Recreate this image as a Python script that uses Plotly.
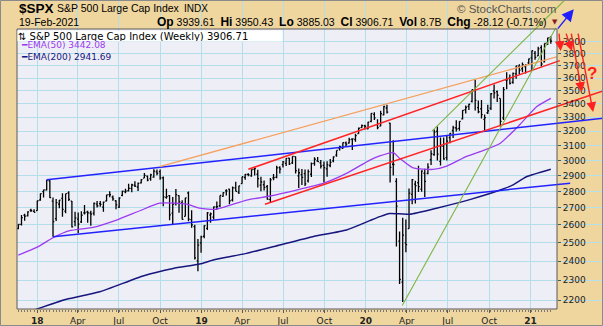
import numpy as np
import pandas as pd
import plotly.graph_objects as go

# ---------------- data: S&P 500 weekly bars (weeks starting Monday) ----------------
FIRST_MONDAY = "2017-11-20"

OPEN = [
    # 2017
    2579.49, 2602.66, 2657.19, 2652.19, 2685.92, 2679.09,
    # 2018
    2683.73, 2747.71, 2798.96, 2809.16, 2867.23, 2741.06, 2636.75, 2722.99, 2757.37, 2681.06,
    2790.54, 2741.38, 2619.35, 2633.45, 2617.18, 2670.10, 2675.40, 2668.65, 2669.36, 2722.70,
    2725.95, 2705.11, 2741.67, 2780.18, 2765.79, 2742.94, 2704.95, 2775.62, 2796.93, 2804.55,
    2819.00, 2840.29, 2827.95, 2853.93, 2884.69, 2896.96, 2881.39, 2890.74, 2923.80, 2926.29,
    2886.00, 2763.83, 2773.94, 2669.27, 2726.37, 2773.93, 2730.05, 2649.97, 2790.50, 2630.86,
    2590.75, 2400.56, 2498.94,
    # 2019
    2535.61, 2580.31, 2657.88, 2644.89, 2706.49, 2712.40, 2769.28, 2804.35, 2814.37, 2747.61,
    2822.61, 2796.01, 2848.63, 2888.32, 2908.32, 2898.78, 2940.58, 2908.89, 2840.19, 2841.94,
    2830.03, 2751.53, 2885.83, 2889.75, 2951.42, 2971.41, 2979.77, 3014.78, 2982.92, 3024.47,
    2898.07, 2907.07, 2913.48, 2866.70, 2909.01, 2980.00, 2996.41, 2983.50, 2967.07, 2944.23,
    2965.81, 2996.48, 3035.39, 3078.96, 3080.33, 3117.91, 3117.44, 3143.85, 3141.86, 3183.63,
    3226.05, 3240.09,
    # 2020
    3217.55, 3271.13, 3321.03, 3247.16, 3235.66, 3318.28, 3369.04, 3257.61, 2974.28, 2863.89,
    2508.59, 2290.71, 2498.08, 2578.28, 2782.46, 2845.62, 2854.65, 2815.01, 2915.46, 2913.86,
    3004.08, 3038.78, 3199.92, 2993.76, 3094.42, 3018.59, 3155.29, 3205.08, 3224.29, 3219.84,
    3288.26, 3356.04, 3380.86, 3418.09, 3507.44, 3371.88, 3363.56, 3285.57, 3333.90, 3367.27,
    3500.02, 3493.50, 3441.42, 3296.20, 3583.04, 3600.16, 3566.82, 3634.18, 3694.73, 3675.27,
    3693.42, 3723.03,
    # 2021
    3764.61, 3803.14, 3781.88, 3851.68, 3731.17, 3892.59, 3939.61,
]
HIGH = [
    2604.21, 2657.74, 2665.19, 2679.63, 2694.97, 2692.12,
    2743.45, 2787.85, 2810.33, 2872.87, 2870.62, 2763.39, 2754.42, 2747.76, 2789.15, 2786.57,
    2801.90, 2741.38, 2676.47, 2672.08, 2680.26, 2717.49, 2682.86, 2682.92, 2732.86, 2742.10,
    2742.24, 2739.19, 2779.90, 2801.43, 2774.99, 2746.09, 2764.41, 2804.53, 2816.36, 2848.03,
    2848.10, 2863.43, 2855.63, 2876.16, 2916.50, 2900.18, 2912.92, 2940.91, 2939.86, 2939.36,
    2894.83, 2816.94, 2778.94, 2766.28, 2815.15, 2775.99, 2746.75, 2760.88, 2800.18, 2685.44,
    2601.13, 2520.27, 2538.07,
    2597.82, 2675.47, 2672.38, 2708.95, 2738.98, 2775.66, 2795.58, 2813.49, 2816.88, 2830.73,
    2860.31, 2836.03, 2893.42, 2910.53, 2916.06, 2939.88, 2954.13, 2937.32, 2892.15, 2868.88,
    2840.51, 2884.99, 2910.61, 2964.15, 2961.32, 2995.84, 3013.92, 3017.80, 3027.98, 3025.61,
    2945.50, 2943.31, 2939.08, 2940.43, 2985.86, 3020.74, 3022.69, 3002.43, 2992.53, 2993.28,
    3008.29, 3027.39, 3066.95, 3097.77, 3120.46, 3127.64, 3154.26, 3150.60, 3182.68, 3225.65,
    3247.93, 3246.15,
    3267.07, 3329.88, 3337.77, 3285.91, 3347.96, 3385.09, 3393.52, 3259.81, 3136.72, 2882.59,
    2562.98, 2641.39, 2632.00, 2818.57, 2879.22, 2867.01, 2964.42, 2934.32, 2944.25, 2980.29,
    3068.67, 3211.72, 3233.13, 3155.53, 3155.29, 3165.81, 3186.82, 3238.28, 3279.32, 3272.17,
    3352.54, 3387.89, 3399.96, 3509.23, 3588.11, 3425.55, 3429.26, 3320.31, 3393.56, 3482.34,
    3549.85, 3502.42, 3441.42, 3529.05, 3645.99, 3628.51, 3644.31, 3699.20, 3712.39, 3726.70,
    3711.24, 3760.20,
    3826.69, 3823.60, 3859.75, 3870.90, 3886.83, 3937.00, 3950.43,
]
LOW = [
    2575.25, 2597.02, 2624.75, 2648.50, 2676.11, 2673.61,
    2682.36, 2742.66, 2763.47, 2808.12, 2759.97, 2532.69, 2622.45, 2697.77, 2647.32, 2667.84,
    2741.38, 2585.89, 2593.06, 2553.80, 2610.79, 2660.02, 2612.67, 2594.62, 2655.20, 2701.91,
    2707.38, 2676.81, 2740.54, 2764.07, 2742.94, 2691.36, 2698.95, 2770.82, 2789.24, 2799.20,
    2795.14, 2828.21, 2802.49, 2850.49, 2884.69, 2864.12, 2866.84, 2886.16, 2903.28, 2874.27,
    2710.51, 2755.18, 2627.23, 2603.54, 2714.98, 2670.75, 2631.09, 2649.97, 2621.53, 2583.23,
    2408.55, 2346.58, 2443.96,
    2524.56, 2570.41, 2612.86, 2631.05, 2687.26, 2705.58, 2766.86, 2775.13, 2722.27, 2739.19,
    2800.71, 2785.02, 2848.63, 2873.33, 2896.35, 2893.42, 2900.50, 2825.39, 2801.43, 2805.49,
    2750.52, 2728.81, 2870.54, 2883.04, 2913.04, 2952.22, 2963.44, 2969.69, 2975.95, 2914.11,
    2822.12, 2840.53, 2834.97, 2856.67, 2891.85, 2964.15, 2990.38, 2945.53, 2855.94, 2892.66,
    2953.74, 2987.31, 3023.19, 3065.89, 3078.34, 3091.41, 3114.14, 3070.33, 3126.68, 3182.68,
    3223.21, 3212.03,
    3214.64, 3263.62, 3280.61, 3214.68, 3235.66, 3315.72, 3328.45, 2855.84, 2901.54, 2478.86,
    2280.52, 2191.86, 2447.49, 2578.28, 2721.17, 2727.10, 2797.51, 2797.85, 2766.64, 2909.00,
    2969.95, 3031.54, 2999.49, 2965.66, 3004.63, 2999.70, 3115.70, 3152.10, 3198.59, 3204.00,
    3284.53, 3328.82, 3354.69, 3410.00, 3349.63, 3330.00, 3292.40, 3209.45, 3323.69, 3354.54,
    3440.00, 3415.00, 3233.94, 3279.74, 3511.91, 3550.00, 3555.00, 3594.39, 3633.40, 3645.84,
    3636.48, 3705.00,
    3662.71, 3749.62, 3780.00, 3694.12, 3725.62, 3874.00, 3885.03,
]
CLOSE = [
    2602.42, 2642.22, 2651.50, 2675.81, 2683.34, 2673.61,
    2743.15, 2786.24, 2810.30, 2872.87, 2762.13, 2619.55, 2732.22, 2747.30, 2691.25, 2786.57,
    2752.01, 2588.26, 2640.87, 2604.47, 2656.30, 2670.14, 2669.91, 2663.42, 2727.72, 2712.97,
    2721.33, 2734.62, 2779.03, 2779.66, 2754.88, 2718.37, 2759.82, 2801.31, 2801.83, 2818.82,
    2840.35, 2833.28, 2850.13, 2874.69, 2901.52, 2871.68, 2904.98, 2929.67, 2913.98, 2885.57,
    2767.13, 2767.78, 2658.69, 2723.06, 2781.01, 2736.27, 2632.56, 2760.17, 2633.08, 2599.95,
    2416.62, 2485.74, 2531.94,
    2596.26, 2670.71, 2664.76, 2706.53, 2707.88, 2775.60, 2792.67, 2803.69, 2743.07, 2822.48,
    2800.71, 2834.40, 2892.74, 2907.41, 2905.03, 2939.88, 2945.64, 2881.40, 2859.53, 2826.06,
    2752.06, 2873.34, 2886.98, 2950.46, 2941.76, 2990.41, 3013.77, 2976.61, 3025.86, 2932.05,
    2918.65, 2888.68, 2847.11, 2926.46, 2978.71, 3007.39, 2992.07, 2961.79, 2952.01, 2970.27,
    2986.20, 3022.55, 3066.91, 3093.08, 3120.46, 3110.29, 3140.98, 3145.91, 3168.80, 3221.22,
    3240.02, 3234.85,
    3265.35, 3329.62, 3295.47, 3225.52, 3327.71, 3380.16, 3337.75, 2954.22, 2972.37, 2711.02,
    2304.92, 2541.47, 2488.65, 2789.82, 2874.56, 2836.74, 2830.71, 2929.80, 2863.70, 2955.45,
    3044.31, 3193.93, 3041.31, 3097.74, 3009.05, 3130.01, 3185.04, 3224.73, 3215.63, 3271.12,
    3351.28, 3372.85, 3397.16, 3508.01, 3426.96, 3340.97, 3319.47, 3298.46, 3348.44, 3477.13,
    3483.81, 3465.39, 3269.96, 3509.44, 3585.15, 3557.54, 3638.35, 3699.12, 3663.46, 3709.41,
    3703.06, 3756.07,
    3824.68, 3768.25, 3841.47, 3714.24, 3886.83, 3934.83, 3906.71,
]

# EMA readings taken off the chart
EMA50_DATES = ["2017-11-20", "2018-01-01", "2018-02-05", "2018-03-14", "2018-05-05", "2018-06-26",
               "2018-08-17", "2018-09-30", "2018-11-29", "2018-12-28", "2019-02-03", "2019-04-11",
               "2019-06-02", "2019-07-31", "2019-09-28", "2019-11-19", "2020-01-10", "2020-02-01",
               "2020-03-02", "2020-03-16", "2020-04-15", "2020-05-29", "2020-06-29", "2020-08-13",
               "2020-09-11", "2020-10-26", "2020-12-09", "2021-01-15", "2021-02-15"]
EMA50_VALUES = [2432, 2475, 2527, 2567, 2586, 2628, 2683, 2728, 2723, 2698, 2692, 2747,
                2772, 2809, 2851, 2915, 3002, 3030, 3052, 3014, 2950, 2940, 2962, 3028,
                3058, 3116, 3250, 3380, 3442.08]
EMA200_DATES = ["2017-11-20", "2018-01-01", "2018-03-07", "2018-05-20", "2018-08-24", "2018-10-30",
                "2018-12-28", "2019-01-27", "2019-04-11", "2019-06-24", "2019-09-05", "2019-11-19",
                "2020-01-10", "2020-02-01", "2020-02-23", "2020-04-08", "2020-06-06", "2020-08-19",
                "2020-11-01", "2020-11-22", "2020-12-23", "2021-02-15"]
EMA200_VALUES = [2125, 2158, 2205, 2242, 2322, 2361, 2384, 2405, 2441, 2487, 2533, 2571,
                 2625, 2648, 2667, 2662, 2698, 2750, 2815, 2840, 2893, 2941.69]

# analyst trendlines: (dates, prices, colour, width)
TRENDLINES = [
    (["2018-01-22", "2021-06-11"], [2873, 3293], "#2222FF", 1.5),
    (["2018-02-05", "2021-03-30"], [2533, 2852], "#2222FF", 1.5),
    (["2018-09-30", "2021-02-28"], [2958, 3774], "#F5A05F", 1.3),
    (["2019-04-15", "2021-03-07"], [2941, 3742], "#FF2424", 1.5),
    (["2019-05-22", "2021-06-11"], [2722, 3498], "#FF2424", 1.5),
    (["2020-05-27", "2021-03-18"], [3201, 4280], "#7DB544", 1.1),
    (["2020-03-22", "2021-02-26"], [2175, 4022], "#7DB544", 1.1),
]
# arrows: (tail date, tail price, head date, head price, colour)
ARROWS = [
    ("2021-02-28", 4004, "2021-04-07", 4194, "#1F1FFF"),
    ("2021-03-05", 3986, "2021-03-09", 3822, "#FF2020"),
    ("2021-03-20", 3986, "2021-04-03", 3822, "#FF2020"),
    ("2021-04-01", 3986, "2021-04-25", 3490, "#FF2020"),
    ("2021-04-16", 3986, "2021-05-20", 3339, "#FF2020"),
]

X_TICKS = ["2018-01-01", "2018-04-01", "2018-07-01", "2018-10-01", "2019-01-01", "2019-04-01",
           "2019-07-01", "2019-10-01", "2020-01-01", "2020-04-01", "2020-07-01", "2020-10-01",
           "2021-01-01"]
X_TICKTEXT = ["<b>18</b>", "Apr", "Jul", "Oct", "<b>19</b>", "Apr", "Jul", "Oct",
              "<b>20</b>", "Apr", "Jul", "Oct", "<b>21</b>"]
Y_TICKS = [2200, 2300, 2400, 2500, 2600, 2700, 2800, 2900, 3000, 3100, 3200, 3300,
           3400, 3500, 3600, 3700, 3800, 3900]

X_RANGE = ["2017-11-17", "2021-06-11"]
Y_RANGE = [2158, 4280]
LAST_DATE_LABEL = "19-Feb-2021"
VOLUME_TEXT = "8.7B"

# ---------------- styling ----------------
TAN = "#EFD59E"
PLOT_BG = "#EEEEF6"
GRID = "#B3DEEA"
HDR_FONT = "Liberation Sans, Arial, sans-serif"
CH_FONT = "DejaVu Sans, Verdana, sans-serif"
W, H = 603, 326
ML, MR, MT, MB = 17, 0, 0, 17
PW, PH = W - ML - MR, H - MT - MB


def pxx(px):
    return (px - ML) / PW


def pxy(py):
    return (H - MB - py) / PH


INNER_R = pxx(557)
INNER_T = pxy(29)

weeks = pd.date_range(FIRST_MONDAY, periods=len(CLOSE), freq="7D")

fig = go.Figure()
fig.add_trace(go.Scatter(x=EMA200_DATES, y=EMA200_VALUES, mode="lines",
                         line=dict(color="#16167E", width=1.5, shape="spline", smoothing=0.5),
                         hoverinfo="skip"))
fig.add_trace(go.Scatter(x=EMA50_DATES, y=EMA50_VALUES, mode="lines",
                         line=dict(color="#9B3BF0", width=1.3, shape="spline", smoothing=0.5),
                         hoverinfo="skip"))
for d, p, c, w in TRENDLINES:
    fig.add_trace(go.Scatter(x=d, y=p, mode="lines", line=dict(color=c, width=w),
                             hoverinfo="skip"))
fig.add_trace(go.Ohlc(x=weeks, open=OPEN, high=HIGH, low=LOW, close=CLOSE,
                      increasing=dict(line=dict(color="black", width=1.3)),
                      decreasing=dict(line=dict(color="black", width=1.3)),
                      tickwidth=0.4, hoverinfo="skip"))

shapes = [
    dict(type="rect", xref="paper", yref="paper", x0=INNER_R, x1=1.0, y0=0, y1=1,
         fillcolor=TAN, line=dict(width=0), layer="between"),
    dict(type="rect", xref="paper", yref="paper", x0=0, x1=1.0, y0=INNER_T, y1=1,
         fillcolor=TAN, line=dict(width=0), layer="between"),
    dict(type="rect", xref="paper", yref="paper", x0=0, x1=INNER_R, y0=0, y1=INNER_T,
         fillcolor="rgba(0,0,0,0)", line=dict(color="#5A5A5A", width=1), layer="above"),
    dict(type="rect", xref="paper", yref="paper", x0=pxx(0.5), x1=pxx(602.5), y0=pxy(325.5),
         y1=pxy(0.5), fillcolor="rgba(0,0,0,0)", line=dict(color="#8A8A8A", width=1),
         layer="above"),
]

o, h, l, c = OPEN[-1], HIGH[-1], LOW[-1], CLOSE[-1]
chg = c - CLOSE[-2]
pct = chg / CLOSE[-2] * 100


def lab(t):
    return f"<b><span style='font-size:12px'>{t}</span></b>"


hdr_right = (f"{lab('Op')} {o:.2f}  {lab('Hi')} {h:.2f}  {lab('Lo')} {l:.2f}  "
             f"{lab('Cl')} {c:.2f}  {lab('Vol')} {VOLUME_TEXT}  {lab('Chg')} {chg:.2f} ({pct:.2f}%)")

ann = [
    dict(text="<b>$SPX</b>", x=pxx(17), y=pxy(8.5), font=dict(size=13.5, family=HDR_FONT, color="black")),
    dict(text="S&P 500 Large Cap Index", x=pxx(55), y=pxy(8.5),
         font=dict(size=10.5, family=HDR_FONT, color="black")),
    dict(text="INDX", x=pxx(182), y=pxy(8.5), font=dict(size=10, family=HDR_FONT, color="black")),
    dict(text=LAST_DATE_LABEL, x=pxx(17), y=pxy(22.5),
         font=dict(size=10.5, family=HDR_FONT, color="black")),
    dict(text=hdr_right, x=pxx(549), y=pxy(22.5), xanchor="right",
         font=dict(size=10.5, family=HDR_FONT, color="black")),
    dict(text="▼", x=pxx(555), y=pxy(22), xanchor="center",
         font=dict(size=7, family=CH_FONT, color="#8B1A2A")),
    dict(text="© StockCharts.com", x=pxx(558), y=pxy(9), xanchor="right",
         font=dict(size=11.5, family=HDR_FONT, color="#555555")),
    dict(text=f"⇅ S&P 500 Large Cap Index (Weekly) {c:.2f}", x=pxx(17), y=pxy(29.5),
         yanchor="top", bgcolor="white", width=264, height=10, align="left", borderpad=0,
         font=dict(size=10, family=CH_FONT, color="black")),
    dict(text=f"━EMA(50) {EMA50_VALUES[-1]:.2f}", x=pxx(19), y=pxy(45.5),
         font=dict(size=9, family=CH_FONT, color="#9B3BF0")),
    dict(text=f"━EMA(200) {EMA200_VALUES[-1]:.2f}", x=pxx(19), y=pxy(57),
         font=dict(size=9, family=CH_FONT, color="#16167E")),
    dict(text="<b>?</b>", x=pxx(591.5), y=pxy(73.5), xanchor="center",
         font=dict(size=17, family=HDR_FONT, color="#FF2020")),
]
annotations = []
for a in ann:
    base = dict(xref="paper", yref="paper", showarrow=False, xanchor="left", yanchor="middle")
    base.update(a)
    annotations.append(base)

for td, tp, hd, hp, col in ARROWS:
    annotations.append(dict(
        xref="x", yref="y", axref="x", ayref="y",
        x=hd, y=np.log10(hp), ax=td, ay=np.log10(tp), text="",
        showarrow=True, arrowhead=2, arrowsize=1.4 if col != "#1F1FFF" else 1.7,
        arrowwidth=1.4, arrowcolor=col, standoff=0, startstandoff=0))

fig.update_layout(
    width=W, height=H, margin=dict(l=ML, r=MR, t=MT, b=MB),
    paper_bgcolor=TAN, plot_bgcolor=PLOT_BG, showlegend=False, hovermode=False,
    xaxis=dict(type="date", range=X_RANGE, tickmode="array", tickvals=X_TICKS,
               ticktext=X_TICKTEXT, showgrid=True, gridcolor=GRID, gridwidth=1,
               ticks="outside", ticklen=3, tickcolor="#555555",
               tickfont=dict(family=CH_FONT, size=9, color="#222222"),
               showline=False, zeroline=False, rangeslider=dict(visible=False),
               minor=dict(tickmode="array", tickvals=list(weeks), ticks="outside", ticklen=2,
                          tickcolor="#777777", showgrid=False),
               fixedrange=True),
    yaxis=dict(type="log", range=[np.log10(Y_RANGE[0]), np.log10(Y_RANGE[1])],
               tickmode="array", tickvals=Y_TICKS, ticktext=[str(v) for v in Y_TICKS],
               side="right", anchor="free", position=INNER_R,
               showgrid=True, gridcolor=GRID, gridwidth=1,
               ticks="outside", ticklen=3, tickcolor="#555555",
               tickfont=dict(family=CH_FONT, size=9, color="#222222"),
               showline=False, zeroline=False, fixedrange=True),
    shapes=shapes, annotations=annotations,
)

fig.write_html("out.html")
